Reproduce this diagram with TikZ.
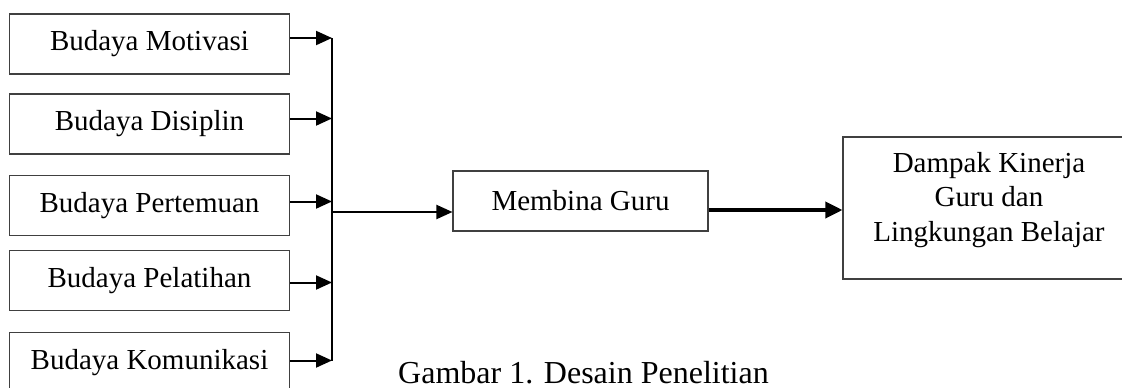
\documentclass[tikz,border=0pt]{standalone}
\usepackage{fontspec}
\setmainfont{Liberation Serif}
\usetikzlibrary{arrows.meta}
\begin{document}
\begin{tikzpicture}[x=1pt,y=-1pt,
  box/.style={draw=black!75,line width=1.1pt,inner sep=0pt,minimum height=60pt,
              font=\fontsize{29}{34}\selectfont},
  srcbox/.style={box,minimum width=280pt},
  arr/.style={line width=2pt,-{Triangle[length=16pt,width=14pt]}},
  thickarr/.style={line width=3.5pt,-{Triangle[length=17pt,width=16pt]}},
  conn/.style={line width=2pt}]
\useasboundingbox (0,0) rectangle (1122,388);
\fill[white] (0,0) rectangle (1122,388);

\node[srcbox] (b1) at (149.5,44) {Budaya Motivasi};
\node[srcbox] (b2) at (149.5,124) {Budaya Disiplin};
\node[srcbox] (b3) at (149.5,205.5) {Budaya Pertemuan};
\node[srcbox] (b4) at (149.5,280.5) {Budaya Pelatihan};
\node[srcbox] (b5) at (149.5,362.5) {Budaya Komunikasi};

\node[box,minimum width=255pt] (mg) at (580.5,201) {Membina Guru};
\node[box,minimum width=292pt,minimum height=142pt] (dk) at (989,208) {};
\node[align=center,inner sep=0pt,font=\fontsize{29}{34.5}\selectfont] (dkt) at (989,200)
  {Dampak Kinerja\\Guru dan\\Lingkungan Belajar};

\node[anchor=base,inner sep=0pt,font=\fontsize{32}{38}\selectfont] (cap) at (583.5,383)
  {Gambar 1. Desain Penelitian};

\coordinate (j1) at (332,38);
\coordinate (j2) at (332,118.5);
\coordinate (j3) at (332,201.5);
\coordinate (j4) at (332,282.5);
\coordinate (j5) at (332,360.5);
\coordinate (jm) at (332,212);
\coordinate (t1) at (708,210);

\draw[conn] (j1) -- (j5);
\draw[arr] (b1.east |- j1) -- (j1);
\draw[arr] (b2.east |- j2) -- (j2);
\draw[arr] (b3.east |- j3) -- (j3);
\draw[arr] (b4.east |- j4) -- (j4);
\draw[arr] (b5.east |- j5) -- (j5);
\draw[arr] (jm) -- (mg.west |- jm);
\draw[thickarr] (mg.east |- t1) -- (dk.west |- t1);
\end{tikzpicture}
\end{document}
